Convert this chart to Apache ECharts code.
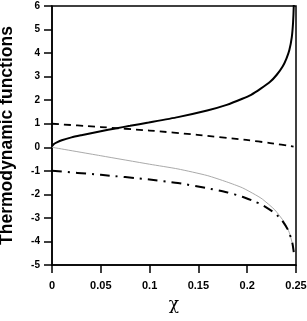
<!DOCTYPE html>
<html><head><meta charset="utf-8">
<script src="https://cdn.jsdelivr.net/npm/echarts@6/dist/echarts.min.js"></script>
<style>html,body{margin:0;padding:0;background:#fff}#c{width:307px;height:321px}</style>
</head><body><div id="c"></div>
<script>
var xTicks = [0, 0.05, 0.1, 0.15, 0.2, 0.25];
var xTickLabels = ['0', '0.05', '0.1', '0.15', '0.2', '0.25'];
var yTicks = [-5, -4, -3, -2, -1, 0, 1, 2, 3, 4, 5, 6];

var chiSolid = [0, 0.002, 0.005, 0.01, 0.02, 0.03, 0.05, 0.065, 0.08, 0.099, 0.129, 0.159, 0.179, 0.195, 0.204, 0.2135, 0.2235, 0.2303, 0.2363, 0.2403, 0.2432, 0.2457, 0.247, 0.2477, 0.2481];
var solidVals = [0.05, 0.14, 0.21, 0.30, 0.42, 0.51, 0.68, 0.80, 0.91, 1.05, 1.28, 1.56, 1.80, 2.06, 2.23, 2.48, 2.78, 3.08, 3.43, 3.78, 4.13, 4.68, 5.3, 6.0, 7.0];

var chiDash = [0, 0.05, 0.1, 0.149, 0.199, 0.2235, 0.2475];
var dashVals = [1.0, 0.86, 0.71, 0.53, 0.31, 0.18, 0.03];

var chiGrey = [0, 0.05, 0.1, 0.129, 0.159, 0.179, 0.195, 0.2085, 0.2155, 0.2283, 0.2383, 0.2432, 0.2462, 0.2477];
var greyVals = [0, -0.36, -0.72, -0.92, -1.20, -1.47, -1.72, -2.02, -2.20, -2.66, -3.20, -3.63, -4.08, -4.4];

var chiDashDot = [0, 0.05, 0.1, 0.129, 0.159, 0.179, 0.195, 0.2085, 0.2155, 0.2283, 0.2356, 0.2423, 0.2462, 0.2477];
var dashDotVals = [-1.0, -1.17, -1.37, -1.52, -1.74, -1.91, -2.10, -2.32, -2.45, -2.80, -3.10, -3.55, -4.05, -4.45];

function pairs(xs, ys) { return xs.map(function (x, i) { return [x, ys[i]]; }); }

var chart = echarts.init(document.getElementById('c'), null, {renderer: 'canvas'});
var font = 'Liberation Sans, Arial, sans-serif';
chart.setOption({
  animation: false,
  backgroundColor: '#fff',
  grid: {left: 52, right: 11, top: 6, bottom: 56, show: true, borderColor: '#000', borderWidth: 1.5,
         containLabel: false, outerBoundsMode: 'none'},
  xAxis: {
    type: 'value', min: 0, max: 0.25, interval: 0.05,
    name: 'χ', nameLocation: 'middle', nameGap: 30,
    nameTextStyle: {fontFamily: 'DejaVu Serif, Liberation Serif, serif', fontSize: 17, color: '#000'},
    axisLine: {show: true, onZero: false, lineStyle: {color: '#000', width: 1.5}},
    axisTick: {show: true, inside: false, length: 8, lineStyle: {color: '#000', width: 1.5}},
    axisLabel: {margin: 15, fontSize: 11, fontWeight: 'bold', color: '#000', fontFamily: font,
      formatter: function (v) { var i = xTicks.findIndex(function (t) { return Math.abs(t - v) < 1e-9; }); return i >= 0 ? xTickLabels[i] : ''; }},
    splitLine: {show: false}
  },
  yAxis: {
    type: 'value', min: -5, max: 6, interval: 1,
    name: 'Thermodynamic functions', nameLocation: 'middle', nameGap: 36,
    nameTextStyle: {fontFamily: font, fontSize: 17.5, fontWeight: 'bold', color: '#000'},
    axisLine: {show: true, onZero: false, lineStyle: {color: '#000', width: 1.5}},
    axisTick: {show: true, inside: false, length: 8, lineStyle: {color: '#000', width: 1.5}},
    axisLabel: {margin: 12, fontSize: 10, fontWeight: 'bold', color: '#000', fontFamily: font},
    splitLine: {show: false}
  },
  series: [
    {type: 'line', data: pairs(chiGrey, greyVals), showSymbol: false, smooth: 0.2, clip: true,
     lineStyle: {color: '#aaaaaa', width: 1}},
    {type: 'line', data: pairs(chiDashDot, dashDotVals), showSymbol: false, smooth: 0.2, clip: true,
     lineStyle: {color: '#000', width: 2, type: [10, 6, 2, 6]}},
    {type: 'line', data: pairs(chiDash, dashVals), showSymbol: false, smooth: 0.2, clip: true,
     lineStyle: {color: '#000', width: 1.8, type: [7, 5]}},
    {type: 'line', data: pairs(chiSolid, solidVals), showSymbol: false, smooth: 0.2, clip: true,
     lineStyle: {color: '#000', width: 2}}
  ]
});
</script></body></html>
